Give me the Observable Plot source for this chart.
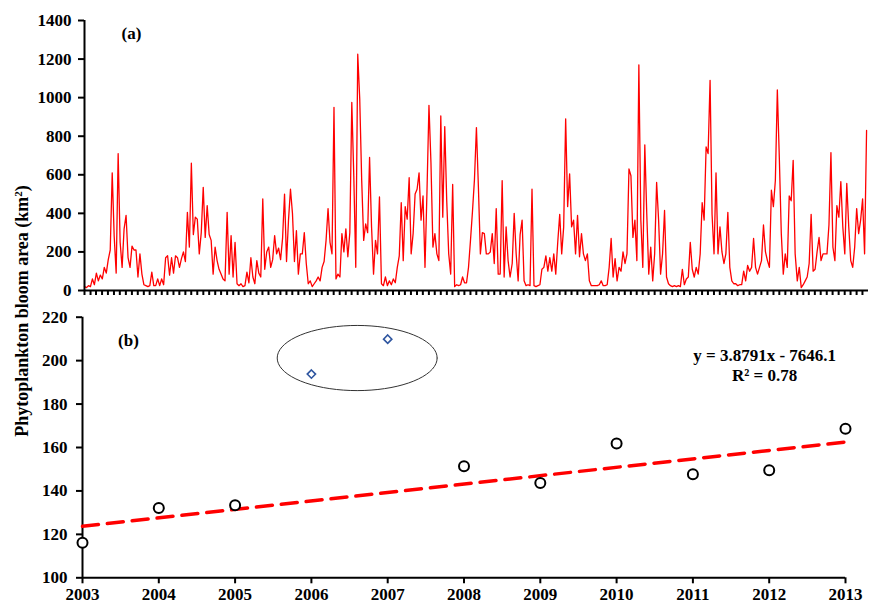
<!DOCTYPE html>
<html>
<head>
<meta charset="utf-8">
<script src="https://cdn.jsdelivr.net/npm/d3@7"></script>
<script src="https://cdn.jsdelivr.net/npm/@observablehq/plot@0.6"></script>
<style>
  html, body { margin: 0; padding: 0; background: #fff; }
  #wrap { position: relative; width: 870px; height: 606px; overflow: hidden;
          font-family: "Liberation Serif", "Times New Roman", serif; font-weight: bold; color: #000; }
  #top { position: absolute; left: 0; top: 0; }
  #bot { position: absolute; left: 0; top: 300px; }
  #ylab { position: absolute; left: 22px; top: 311px; white-space: nowrap; font-size: 18px; line-height: 1;
          transform: translate(-50%, -50%) rotate(-90deg); }
  #ylab sup { font-size: 11px; vertical-align: 6px; line-height: 0; }
  svg g[aria-label^="x-axis"] line, svg g[aria-label^="x-axis"] path,
  svg g[aria-label^="y-axis"] line, svg g[aria-label^="y-axis"] path { stroke-width: 2px; }
</style>
</head>
<body>
<div id="wrap">
  <div id="top"></div>
  <div id="bot"></div>
  <div id="ylab">Phytoplankton bloom area (km<sup>2</sup>)</div>
</div>
<script>
// ---------- Panel (a): bloom area, ~10-day samples per year (km²) ----------
const years = [2003, 2004, 2005, 2006, 2007, 2008, 2009, 2010, 2011, 2012, 2013];
const y2003 = [20,15,25,20,60,30,90,50,80,60,120,90,160,210,610,280,90,710,250,120,320,390,170,120,230,210,210,70,190,85,30,25,20,25,95,25];
const y2004 = [25,60,25,60,30,170,180,80,170,90,180,170,120,165,200,150,405,225,660,290,380,370,190,300,535,275,440,290,260,85,225,155,110,85,60,50];
const y2005 = [405,85,285,70,250,35,25,35,20,25,95,40,170,70,35,155,90,70,475,110,200,225,120,160,285,190,220,160,270,500,150,365,525,400,150,310];
const y2006 = [85,190,190,300,140,35,50,20,35,50,70,50,120,150,260,425,250,190,950,60,85,70,295,200,320,175,300,975,595,120,1225,995,570,260,345,300];
const y2007 = [690,330,85,260,190,485,35,25,70,25,50,30,60,40,120,180,455,155,435,370,585,190,295,500,525,610,365,490,120,515,960,665,225,295,190,155];
const y2008 = [905,380,850,465,190,85,550,20,30,25,30,70,40,40,120,260,410,575,845,535,190,300,295,190,190,200,295,140,425,85,85,570,70,330,155,70];
const y2009 = [140,400,190,50,290,365,50,25,30,25,525,25,20,25,30,110,120,180,100,170,100,190,85,250,395,190,330,890,435,605,330,365,190,390,175,295];
const y2010 = [190,155,190,50,25,25,25,25,30,50,25,25,30,120,270,70,165,50,120,100,200,140,190,630,595,275,365,155,1170,365,120,755,395,85,225,50];
const y2011 = [190,560,365,85,190,415,70,35,25,20,25,20,25,20,110,30,60,70,250,110,70,120,85,190,455,365,745,710,1090,395,190,610,190,330,200,140];
const y2012 = [190,405,120,50,35,35,25,30,30,100,50,130,100,120,270,120,85,120,155,340,200,155,120,520,435,570,1040,690,295,85,190,120,490,465,675,190];
const y2013 = [50,120,15,30,50,70,140,395,100,110,200,275,155,190,190,190,340,715,225,155,440,380,565,330,190,555,330,155,120,225,425,295,365,475,190,830];
const yearly = [y2003, y2004, y2005, y2006, y2007, y2008, y2009, y2010, y2011, y2012, y2013];
const topTicks = [0, 200, 400, 600, 800, 1000, 1200, 1400];

// ---------- Panel (b): annual mean bloom area ----------
const meanYears  = [2003, 2004, 2005, 2008, 2009, 2010, 2011, 2012, 2013];
const meanValues = [116.1, 132.1, 133.4, 151.4, 143.6, 161.8, 147.7, 149.5, 168.6];
const outlierYears  = [2006, 2007];
const outlierValues = [193.8, 209.9];
const fitCoef = [3.8791, -7646.1];   // slope, intercept
const fitLabel = "y = 3.8791x - 7646.1";
const r2Label = "R² = 0.78";
const bottomYTicks = [100, 120, 140, 160, 180, 200, 220];
const bottomXTicks = [2003, 2004, 2005, 2006, 2007, 2008, 2009, 2010, 2011, 2012, 2013];
const ellipseSpec = {cx: 2006.6, cy: 201.2, rx: 1.048, ry: 15.0};

// build tables
const dayMs = 864e5;
const stepDays = 365.25 / 36;
const series = [];
years.forEach((Y, k) => {
  yearly[k].forEach((v, i) => {
    series.push({date: new Date(Date.UTC(Y, 0, 1) + i * stepDays * dayMs), value: v});
  });
});
const t0 = new Date(Date.UTC(2003, 0, 1));
const t1 = new Date(Date.UTC(2014, 0, 1));
const monthTicks = d3.utcMonths(t0, t1);

const fontStyle = {fontFamily: "'Liberation Serif', 'Times New Roman', serif", fontSize: "17px",
                   fontWeight: "bold", color: "#000", background: "#fff", overflow: "visible"};

const topPlot = Plot.plot({
  width: 870, height: 300,
  marginTop: 20, marginBottom: 10, marginLeft: 84, marginRight: 2,
  style: fontStyle,
  x: {type: "utc", domain: [t0, t1], ticks: monthTicks, tickSize: 5, tickFormat: () => "", label: null},
  y: {domain: [0, 1400], ticks: topTicks, tickSize: 6, tickPadding: 7, tickFormat: d3.format("d"), label: null},
  marks: [
    Plot.line(series, {x: "date", y: "value", stroke: "#ff0000", strokeWidth: 1.3}),
    Plot.ruleY([0], {stroke: "#000", strokeWidth: 2}),
    Plot.ruleX([t0], {stroke: "#000", strokeWidth: 2}),
    Plot.text(["(a)"], {text: d => d, frameAnchor: "top-left", dx: 47, dy: 13,
      textAnchor: "middle", lineAnchor: "middle", fontSize: 17, fontWeight: "bold"})
  ]
});
document.getElementById("top").appendChild(topPlot);

// bottom tables
const means = meanYears.map((y, i) => ({year: y, value: meanValues[i]}));
const outliers = outlierYears.map((y, i) => ({year: y, value: outlierValues[i]}));
const fitLine = [bottomXTicks[0], bottomXTicks[bottomXTicks.length - 1]].map(x => ({year: x, value: fitCoef[0] * x + fitCoef[1]}));
const ellipse = d3.range(0, 73).map(k => {
  const a = k / 72 * 2 * Math.PI;
  return {year: ellipseSpec.cx + ellipseSpec.rx * Math.cos(a), value: ellipseSpec.cy + ellipseSpec.ry * Math.sin(a)};
});
const squareDiamond = {
  draw(ctx, size) {
    const r = Math.sqrt(size / 2);
    ctx.moveTo(0, -r); ctx.lineTo(r, 0); ctx.lineTo(0, r); ctx.lineTo(-r, 0); ctx.closePath();
  }
};

const botPlot = Plot.plot({
  width: 870, height: 306,
  marginTop: 16.7, marginBottom: 28.7, marginLeft: 82, marginRight: 25,
  style: fontStyle,
  x: {domain: [2003, 2013], ticks: bottomXTicks, tickFormat: d3.format("d"), tickSize: 6, tickPadding: 4, label: null},
  y: {domain: [100, 220], ticks: bottomYTicks, tickFormat: d3.format("d"), tickSize: 6, tickPadding: 9, label: null},
  marks: [
    Plot.line(ellipse, {x: "year", y: "value", stroke: "#333", strokeWidth: 1, curve: "linear"}),
    Plot.ruleY([100], {stroke: "#000", strokeWidth: 2}),
    Plot.ruleX([2003], {stroke: "#000", strokeWidth: 2}),
    Plot.line(fitLine, {x: "year", y: "value", stroke: "#ff0000", strokeWidth: 3.5, strokeDasharray: "16,9"}),
    Plot.dot(means, {x: "year", y: "value", r: 5, stroke: "#000", strokeWidth: 2, fill: "#fff"}),
    Plot.dot(outliers, {x: "year", y: "value", r: 3.3, symbol: squareDiamond, stroke: "#2f56a0", strokeWidth: 1.6, fill: "#fff"}),
    Plot.text(["(b)"], {text: d => d, frameAnchor: "top-left", dx: 46, dy: 23,
      textAnchor: "middle", lineAnchor: "middle", fontSize: 17, fontWeight: "bold"}),
    Plot.text([fitLabel], {text: d => d, x: 2011.94, y: 202.4, textAnchor: "middle", lineAnchor: "middle",
      fontSize: 17, fontWeight: "bold"}),
    Plot.text([r2Label], {text: d => d, x: 2011.94, y: 193.2, textAnchor: "middle", lineAnchor: "middle",
      fontSize: 17, fontWeight: "bold"})
  ]
});
document.getElementById("bot").appendChild(botPlot);
</script>
</body>
</html>
